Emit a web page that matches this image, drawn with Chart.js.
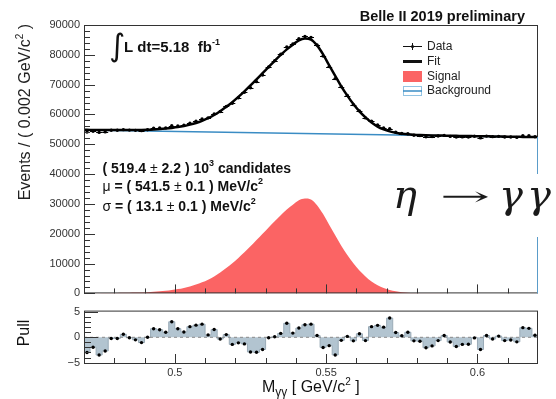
<!DOCTYPE html>
<html>
<head>
<meta charset="utf-8">
<script src="https://cdn.jsdelivr.net/npm/chart.js@4.4.1/dist/chart.umd.min.js"></script>
<style>
html, body { margin: 0; padding: 0; background: #fff; }
#wrap { position: relative; width: 556px; height: 399px; overflow: hidden; }
canvas { position: absolute; left: 0; }
</style>
</head>
<body>
<div id="wrap">
  <canvas id="mainChart" width="556" height="304" style="top:0;width:556px;height:304px"></canvas>
  <canvas id="pullChart" width="556" height="99" style="top:300px;width:556px;height:99px"></canvas>
</div>
<script>
// histogram binning: 75 bins of 0.002 GeV/c^2 between 0.47 and 0.62
const xMin = 0.47, xMax = 0.62, binWidth = 0.002;
const binCenters = [
  0.471, 0.473, 0.475, 0.477, 0.479, 0.481, 0.483, 0.485, 0.487, 0.489,
  0.491, 0.493, 0.495, 0.497, 0.499, 0.501, 0.503, 0.505, 0.507, 0.509,
  0.511, 0.513, 0.515, 0.517, 0.519, 0.521, 0.523, 0.525, 0.527, 0.529,
  0.531, 0.533, 0.535, 0.537, 0.539, 0.541, 0.543, 0.545, 0.547, 0.549,
  0.551, 0.553, 0.555, 0.557, 0.559, 0.561, 0.563, 0.565, 0.567, 0.569,
  0.571, 0.573, 0.575, 0.577, 0.579, 0.581, 0.583, 0.585, 0.587, 0.589,
  0.591, 0.593, 0.595, 0.597, 0.599, 0.601, 0.603, 0.605, 0.607, 0.609,
  0.611, 0.613, 0.615, 0.617, 0.619
];

// events per bin
const dataEvents = [
  54142, 54366, 53981, 54156, 54720, 54718, 54912, 54757, 54681, 54580,
  54884, 55370, 55452, 55503, 56210, 56155, 56373, 57090, 57732, 58502,
  58858, 60187, 60994, 62681, 63762, 65601, 67414, 68954, 70997, 73203,
  75896, 78020, 80178, 82620, 83636, 85397, 86156, 85859, 83269, 79570,
  76047, 72032, 69282, 66354, 63300, 61217, 58854, 57782, 56507, 55486,
  55219, 54070, 53609, 53559, 53024, 52917, 52553, 52587, 52787, 52980,
  52648, 52411, 52478, 52455, 52708, 52147, 52752, 52560, 52663, 52426,
  52422, 52305, 52915, 52853, 52510
];
const fitEvents = [
  54844, 54822, 54800, 54788, 54776, 54774, 54772, 54780, 54798, 54826,
  54884, 54972, 55100, 55268, 55486, 55754, 56122, 56590, 57158, 57876,
  58744, 59812, 61080, 62548, 64116, 65884, 67752, 69720, 71788, 73856,
  75924, 77992, 79960, 81828, 83396, 84864, 85432, 85100, 83168, 80136,
  76504, 72972, 69440, 66308, 63476, 61044, 59012, 57280, 55948, 55016,
  54334, 53852, 53540, 53328, 53186, 53094, 53027, 52978, 52937, 52900,
  52864, 52832, 52800, 52768, 52736, 52704, 52672, 52640, 52608, 52576,
  52544, 52512, 52480, 52448, 52416
];
const signalEvents = [
  60, 70, 80, 100, 120, 150, 180, 220, 270, 330,
  420, 540, 700, 900, 1150, 1450, 1850, 2350, 2950, 3700,
  4600, 5700, 7000, 8500, 10100, 11900, 13800, 15800, 17900, 20000,
  22100, 24200, 26200, 28100, 29700, 31200, 31800, 31500, 29600, 26600,
  23000, 19500, 16000, 12900, 10100, 7700, 5700, 4000, 2700, 1800,
  1150, 700, 420, 240, 130, 70, 35, 18, 9, 4,
  0, 0, 0, 0, 0, 0, 0, 0, 0, 0,
  0, 0, 0, 0, 0
];
// curve values at the frame edges
const edgeX = [0.47, 0.62];
const fitEdgeEvents = [54850, 52400];
const signalEdgeEvents = [55, 0];
const bkgEvents = [54800, 52400];

const pullValues = [
  -3.0, -1.95, -3.5, -2.7, -0.24, -0.24, 0.6, -0.1, -0.5, -1.05,
  0.0, 1.7, 1.5, 1.0, 3.07, 1.7, 1.06, 2.1, 2.4, 2.6,
  0.47, 1.53, -0.35, 0.53, -1.4, -1.1, -1.3, -2.9, -2.95, -2.4,
  -0.1, 0.1, 0.77, 2.77, 0.83, 1.83, 2.48, 2.6, 0.35, -2.0,
  -1.65, -3.48, -0.6, 0.18, -0.7, 0.7, -0.65, 2.1, 2.36, 2.0,
  3.8, 0.94, 0.3, 1.0, -0.7, -0.77, -2.06, -1.7, -0.65, 0.35,
  -0.94, -1.83, -1.4, -1.36, -0.12, -2.42, 0.35, -0.35, 0.24, -0.65,
  -0.53, -0.9, 1.9, 1.77, 0.41
];

const yTicksMain = [0, 10000, 20000, 30000, 40000, 50000, 60000, 70000, 80000, 90000];
const yTicksPull = [-5, 0, 5];
const xTicks = [0.5, 0.55, 0.6];

const SANS = '"Liberation Sans", Arial, sans-serif';
const RED = '#fb6464';
const BLUE = '#3a8cc4';

function pts(xs, ys) { return xs.map((x, i) => ({ x: x, y: ys[i] })); }

function rich(ctx, x, y, parts) {
  for (const p of parts) {
    ctx.font = p.f;
    ctx.fillText(p.t, x, y + (p.dy || 0));
    x += ctx.measureText(p.t).width;
  }
  return x;
}
function richWidth(ctx, parts) {
  let w = 0;
  for (const p of parts) { ctx.font = p.f; w += ctx.measureText(p.t).width; }
  return w;
}

// short horizontal bars (bin width) on the data points
const binBars = {
  id: 'binBars',
  afterDatasetsDraw(chart) {
    const { ctx, scales: { x, y } } = chart;
    ctx.save();
    ctx.strokeStyle = '#000';
    ctx.lineWidth = 1;
    ctx.beginPath();
    binCenters.forEach((c, i) => {
      const py = Math.round(y.getPixelForValue(dataEvents[i])) + 0.5;
      ctx.moveTo(x.getPixelForValue(c - binWidth / 2), py);
      ctx.lineTo(x.getPixelForValue(c + binWidth / 2), py);
    });
    ctx.stroke();
    ctx.restore();
  }
};

const mainDecor = {
  id: 'mainDecor',
  afterDraw(chart) {
    const { ctx, chartArea: a, scales: { x, y } } = chart;
    ctx.save();
    ctx.strokeStyle = '#333';
    ctx.lineWidth = 1;
    ctx.beginPath();
    for (let k = 0; k <= 45; k++) {
      const py = Math.round(y.getPixelForValue(k * 2000)) + 0.5;
      const len = k % 5 === 0 ? 11 : 6;
      ctx.moveTo(a.left, py); ctx.lineTo(a.left + len, py);
    }
    for (let k = 48; k <= 61; k++) {
      const px = Math.round(x.getPixelForValue(k / 100)) + 0.5;
      const len = k % 5 === 0 ? 9 : 5;
      ctx.moveTo(px, a.bottom); ctx.lineTo(px, a.bottom - len);
    }
    ctx.stroke();
    ctx.strokeRect(a.left + 0.5, a.top + 0.5, a.right - a.left - 1, a.bottom - a.top - 1);
    // right frame below the background level looks blue
    const yb = y.getPixelForValue(bkgEvents[1]);
    ctx.strokeStyle = '#5a9cc9';
    ctx.beginPath(); ctx.moveTo(a.right - 0.5, yb); ctx.lineTo(a.right - 0.5, a.bottom); ctx.stroke();

    ctx.fillStyle = '#111';
    ctx.textBaseline = 'alphabetic';
    // title
    ctx.font = 'bold 14.5px ' + SANS;
    ctx.textAlign = 'right';
    ctx.fillText('Belle II 2019 preliminary', 525, 21);
    ctx.textAlign = 'left';

    // luminosity
    ctx.font = '31px "DejaVu Sans"';
    ctx.fillText('\u222B', 109, 56);
    rich(ctx, 124, 52, [
      { t: 'L dt=5.18  fb', f: 'bold 15px ' + SANS },
      { t: '-1', f: 'bold 9px ' + SANS, dy: -7 }
    ]);

    // fit results
    const B = 'bold 14px ' + SANS, R = '14px ' + SANS, S = 'bold 9px ' + SANS;
    rich(ctx, 102.5, 172.5, [
      { t: '( 519.4 ', f: B }, { t: '\u00B1', f: R }, { t: ' 2.2 ) 10', f: B },
      { t: '3', f: S, dy: -7 }, { t: ' candidates', f: B }
    ]);
    rich(ctx, 102.5, 191, [
      { t: '\u03BC', f: R }, { t: ' = ( 541.5 ', f: B }, { t: '\u00B1', f: R },
      { t: ' 0.1 ) MeV/c', f: B }, { t: '2', f: S, dy: -7 }
    ]);
    rich(ctx, 102.5, 210.5, [
      { t: '\u03C3', f: R }, { t: ' = ( 13.1 ', f: B }, { t: '\u00B1', f: R },
      { t: ' 0.1 ) MeV/c', f: B }, { t: '2', f: S, dy: -7 }
    ]);

    // legend
    ctx.strokeStyle = '#111';
    ctx.lineWidth = 1;
    ctx.beginPath();
    ctx.moveTo(403, 46.5); ctx.lineTo(422, 46.5);
    ctx.moveTo(412.5, 43); ctx.lineTo(412.5, 50);
    ctx.stroke();
    ctx.beginPath(); ctx.arc(412.5, 46.5, 1.6, 0, Math.PI * 2); ctx.fill();
    ctx.lineWidth = 3;
    ctx.beginPath(); ctx.moveTo(403, 61.5); ctx.lineTo(422, 61.5); ctx.stroke();
    ctx.fillStyle = RED;
    ctx.fillRect(403, 71, 19, 11);
    ctx.strokeStyle = '#93c4e3';
    ctx.lineWidth = 1;
    ctx.strokeRect(403.5, 86.5, 18, 9);
    ctx.strokeStyle = BLUE;
    ctx.lineWidth = 1.5;
    ctx.beginPath(); ctx.moveTo(403, 91); ctx.lineTo(422, 91); ctx.stroke();
    ctx.fillStyle = '#222';
    ctx.font = '12px ' + SANS;
    ctx.textBaseline = 'middle';
    ctx.fillText('Data', 427, 47);
    ctx.fillText('Fit', 427, 62);
    ctx.fillText('Signal', 427, 76.5);
    ctx.fillText('Background', 427, 91);

    // y title
    ctx.textBaseline = 'alphabetic';
    const yt = [
      { t: 'Events / ( 0.002 GeV/c', f: '16px ' + SANS },
      { t: '2', f: '10px ' + SANS, dy: -7 },
      { t: ' )', f: '16px ' + SANS }
    ];
    ctx.save();
    ctx.translate(29.5, 24);
    ctx.rotate(-Math.PI / 2);
    rich(ctx, -richWidth(ctx, yt), 0, yt);
    ctx.restore();

    // pasted decay label
    ctx.fillStyle = '#fff';
    ctx.fillRect(391, 174, 170, 63);
    ctx.fillStyle = '#1a1a1a';
    ctx.font = 'italic 40px "DejaVu Serif", serif';
    ctx.fillText('\u03B7', 393, 208);
    ctx.fillText('\u03B3', 499, 208);
    ctx.fillText('\u03B3', 527, 208);
    ctx.font = '26px "DejaVu Serif", serif';
    const aw = ctx.measureText('\u2192').width;
    ctx.save();
    ctx.translate(440, 205);
    ctx.scale(50 / aw, 1);
    ctx.fillText('\u2192', 0, 0);
    ctx.restore();
    ctx.restore();
  }
};

const pullDecor = {
  id: 'pullDecor',
  afterDraw(chart) {
    const { ctx, chartArea: a, scales: { x, y } } = chart;
    ctx.save();
    ctx.strokeStyle = '#333';
    ctx.lineWidth = 1;
    ctx.beginPath();
    for (let k = -5; k <= 5; k++) {
      const py = Math.round(y.getPixelForValue(k)) + 0.5;
      const len = k % 5 === 0 ? 14 : 7;
      ctx.moveTo(a.left, py); ctx.lineTo(a.left + len, py);
    }
    for (let k = 48; k <= 61; k++) {
      const px = Math.round(x.getPixelForValue(k / 100)) + 0.5;
      const len = k % 5 === 0 ? 10 : 6;
      ctx.moveTo(px, a.bottom); ctx.lineTo(px, a.bottom - len);
    }
    ctx.stroke();
    ctx.strokeRect(a.left + 0.5, a.top + 0.5, a.right - a.left - 1, a.bottom - a.top - 1);

    ctx.fillStyle = '#111';
    ctx.textBaseline = 'alphabetic';
    ctx.save();
    ctx.translate(28.5, 33);
    ctx.rotate(-Math.PI / 2);
    ctx.font = '16px ' + SANS;
    ctx.textAlign = 'center';
    ctx.fillText('Pull', 0, 0);
    ctx.restore();

    rich(ctx, 262, 92, [
      { t: 'M', f: '16px ' + SANS },
      { t: '\u03B3\u03B3', f: '12px ' + SANS, dy: 4 },
      { t: ' [ GeV/c', f: '16px ' + SANS },
      { t: '2', f: '10px ' + SANS, dy: -7 },
      { t: ' ]', f: '16px ' + SANS }
    ]);
    ctx.restore();
  }
};

const tickFont = { family: SANS, size: 11 };

// pull histogram as a filled step outline (edges repeat the first/last bin)
const pullSteps = [{ x: edgeX[0], y: pullValues[0] }]
  .concat(pts(binCenters, pullValues), [{ x: edgeX[1], y: pullValues[pullValues.length - 1] }]);

new Chart(document.getElementById('mainChart'), {
  type: 'line',
  data: {
    datasets: [
      {
        label: 'Data', type: 'scatter', order: 0,
        data: pts(binCenters, dataEvents),
        pointRadius: 1.7, pointBackgroundColor: '#000', pointBorderWidth: 0
      },
      {
        label: 'Fit', order: 1,
        data: [{ x: edgeX[0], y: fitEdgeEvents[0] }].concat(pts(binCenters, fitEvents), [{ x: edgeX[1], y: fitEdgeEvents[1] }]),
        borderColor: '#000', borderWidth: 2.5, pointRadius: 0, cubicInterpolationMode: 'monotone', fill: false
      },
      {
        label: 'Background', order: 2,
        data: pts(edgeX, bkgEvents),
        borderColor: BLUE, borderWidth: 1.5, pointRadius: 0, fill: false
      },
      {
        label: 'Signal', order: 3,
        data: [{ x: edgeX[0], y: signalEdgeEvents[0] }].concat(pts(binCenters, signalEvents), [{ x: edgeX[1], y: signalEdgeEvents[1] }]),
        borderWidth: 0, borderColor: RED, backgroundColor: RED, pointRadius: 0,
        cubicInterpolationMode: 'monotone', fill: 'origin'
      }
    ]
  },
  options: {
    responsive: false, animation: false, events: [],
    layout: { padding: { left: 0, right: 18, top: 25, bottom: 8 } },
    plugins: { legend: { display: false }, tooltip: { enabled: false } },
    scales: {
      x: { type: 'linear', min: xMin, max: xMax, display: false },
      y: {
        type: 'linear', min: 0, max: 90000,
        afterBuildTicks: s => { s.ticks = yTicksMain.map(v => ({ value: v })); },
        afterFit: s => { s.width = 84; },
        grid: { display: false, drawTicks: false },
        border: { display: false },
        ticks: { font: tickFont, color: '#333', padding: 4, callback: v => String(v) }
      }
    }
  },
  plugins: [binBars, mainDecor]
});

new Chart(document.getElementById('pullChart'), {
  type: 'line',
  data: {
    datasets: [
      {
        type: 'scatter', order: 0,
        data: pts(binCenters, pullValues),
        pointRadius: 1.7, pointBackgroundColor: '#000', pointBorderWidth: 0
      },
      {
        order: 1,
        data: pts(edgeX, [0, 0]),
        borderColor: '#8a8a8a', borderWidth: 1, borderDash: [3, 3], pointRadius: 0, fill: false
      },
      {
        order: 2,
        data: pullSteps,
        stepped: 'middle',
        borderColor: '#9aabb7', borderWidth: 1, backgroundColor: '#b2c4d0',
        pointRadius: 0, fill: 'origin'
      }
    ]
  },
  options: {
    responsive: false, animation: false, events: [],
    layout: { padding: { left: 0, right: 18, top: 5, bottom: 0 } },
    plugins: { legend: { display: false }, tooltip: { enabled: false } },
    scales: {
      x: {
        type: 'linear', min: xMin, max: xMax, offset: false,
        afterBuildTicks: s => { s.ticks = xTicks.map(v => ({ value: v })); },
        afterFit: s => { s.height = 35; },
        grid: { display: false, drawTicks: false },
        border: { display: false },
        ticks: { font: tickFont, color: '#333', padding: 2, maxRotation: 0, callback: v => String(v) }
      },
      y: {
        type: 'linear', min: -5.27, max: 5.27,
        afterBuildTicks: s => { s.ticks = yTicksPull.map(v => ({ value: v })); },
        afterFit: s => { s.width = 84; },
        grid: { display: false, drawTicks: false },
        border: { display: false },
        ticks: { font: tickFont, color: '#333', padding: 4, callback: v => (v < 0 ? '\u2212' + Math.abs(v) : String(v)) }
      }
    }
  },
  plugins: [pullDecor]
});
</script>
</body>
</html>
